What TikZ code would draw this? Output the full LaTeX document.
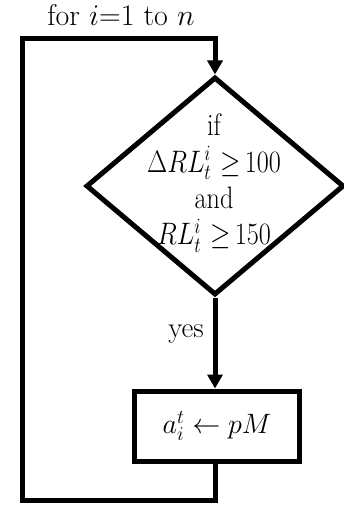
\RequirePackage{fix-cm}
\documentclass[tikz,border=0pt]{standalone}
\usetikzlibrary{shapes.geometric,arrows.meta}
\begin{document}
\begin{tikzpicture}[x=1pt,y=-1pt,
  flow/.style={line width=5pt,line join=miter,black},
  tip/.style={-{Triangle[width=15pt,length=14pt]}},
  txt/.style={inner sep=0pt},
  decision/.style={diamond,draw,line width=5pt,line join=miter,inner sep=0pt,
    minimum width=258pt,minimum height=218pt},
  actionbox/.style={rectangle,draw,line width=5pt,line join=miter,inner sep=0pt,
    minimum width=165pt,minimum height=70pt,font=\fontsize{28}{36}\selectfont}]
\useasboundingbox (0,0) rectangle (343,505);
\node[txt,font=\fontsize{30}{36}\selectfont] (lbl) at (121,15) {for $i$=1 to $n$};
\node[decision] (d) at (215,186) {};
\node[txt,font=\fontsize{27}{31.3}\selectfont] (dt) at (214,183)
  {\scalebox{0.97}[1.15]{\begin{tabular}{@{}c@{}}if\\$\Delta RL_t^i\,\,{\geq}\,100$\\and\\$RL_t^i\,\,{\geq}\,150$\end{tabular}}};
\node[actionbox] (b) at (217,426) {\raisebox{2pt}{$a_i^t \leftarrow pM$}};
\node[txt,font=\fontsize{29}{36}\selectfont] (yes) at (186,334) {yes};
\coordinate (c2) at (22.5,500);
\coordinate (c3) at (22.5,38.3);
\coordinate (c1) at (d.south |- c2);
\coordinate (c4) at (d.north |- c3);
\draw[flow,tip] (d.south) -- (d.south |- b.north);
\draw[flow,tip] (d.south |- b.south) -- (c1) -- (c2) -- (c3) -- (c4) -- (d.north);
\end{tikzpicture}
\end{document}
